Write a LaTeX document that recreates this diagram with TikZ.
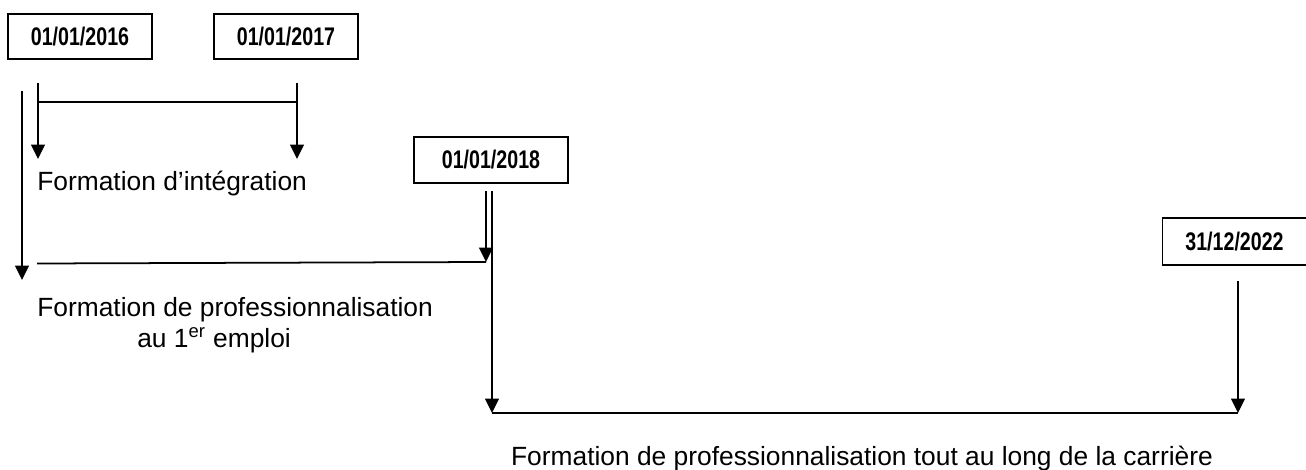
\documentclass[tikz,border=0pt]{standalone}
\usepackage{fontspec}
\setmainfont{Liberation Sans}
\newfontfamily\datafont[FakeStretch=0.77]{Liberation Sans}
\usetikzlibrary{arrows.meta}

\begin{document}
\begin{tikzpicture}[x=0.02cm,y=-0.02cm,
  font=\fontsize{15}{18}\selectfont,
  data/.style={draw,line width=1pt,inner sep=0pt,minimum width=2.88cm,minimum height=0.9cm,
    font=\datafont\bfseries\fontsize{14.5}{16}\selectfont},
  freccia/.style={line width=1.5pt,-{Triangle[length=0.29cm,width=0.27cm]}},
  linea/.style={line width=1pt}]
\useasboundingbox (0,0) rectangle (1306,470);

\node[data] (d16) at (80,36.5) {01/01/2016};
\node[data] (d17) at (286,36.5) {01/01/2017};
\node[data,minimum width=3.08cm,minimum height=0.92cm] (d18) at (491,160) {01/01/2018};
\node[data,minimum height=0.94cm] (d22) at (1234.5,241.5) {31/12/2022};

\coordinate (a1) at (22,91);   \coordinate (a2) at (22,280);
\coordinate (i1) at (38,83);   \coordinate (i2) at (38,159);
\coordinate (j1) at (297,83);  \coordinate (j2) at (297,159);
\coordinate (p1) at (486,191); \coordinate (p2) at (486,262);
\coordinate (q1) at (492,191); \coordinate (q2) at (492,413);
\coordinate (r1) at (1238,281); \coordinate (r2) at (1238,413);

\draw[freccia] (a1) -- (a2);
\draw[freccia] (i1) -- (i2);
\draw[freccia] (j1) -- (j2);
\draw[linea] (i1 |- 0,102) -- (j1 |- 0,102);

\draw[freccia] (p1) -- (p2);
\draw[linea] (37,263.5) -- (p2);
\draw[freccia] (q1) -- (q2);
\draw[freccia] (r1) -- (r2);
\draw[linea] (q2) -- (r2);

\node[anchor=west,inner sep=0pt] (integ) at (37,184) {Formation d’intégration};
\node[anchor=base west,inner sep=0pt,align=left] (prof) at (37,347)
  {Formation de professionnalisation\\[-0.5pt]\hspace*{2cm}au 1\textsuperscript{er} emploi};
\node[anchor=base,inner sep=0pt] (carr) at (862,465)
  {Formation de professionnalisation tout au long de la carrière};

\end{tikzpicture}
\end{document}
